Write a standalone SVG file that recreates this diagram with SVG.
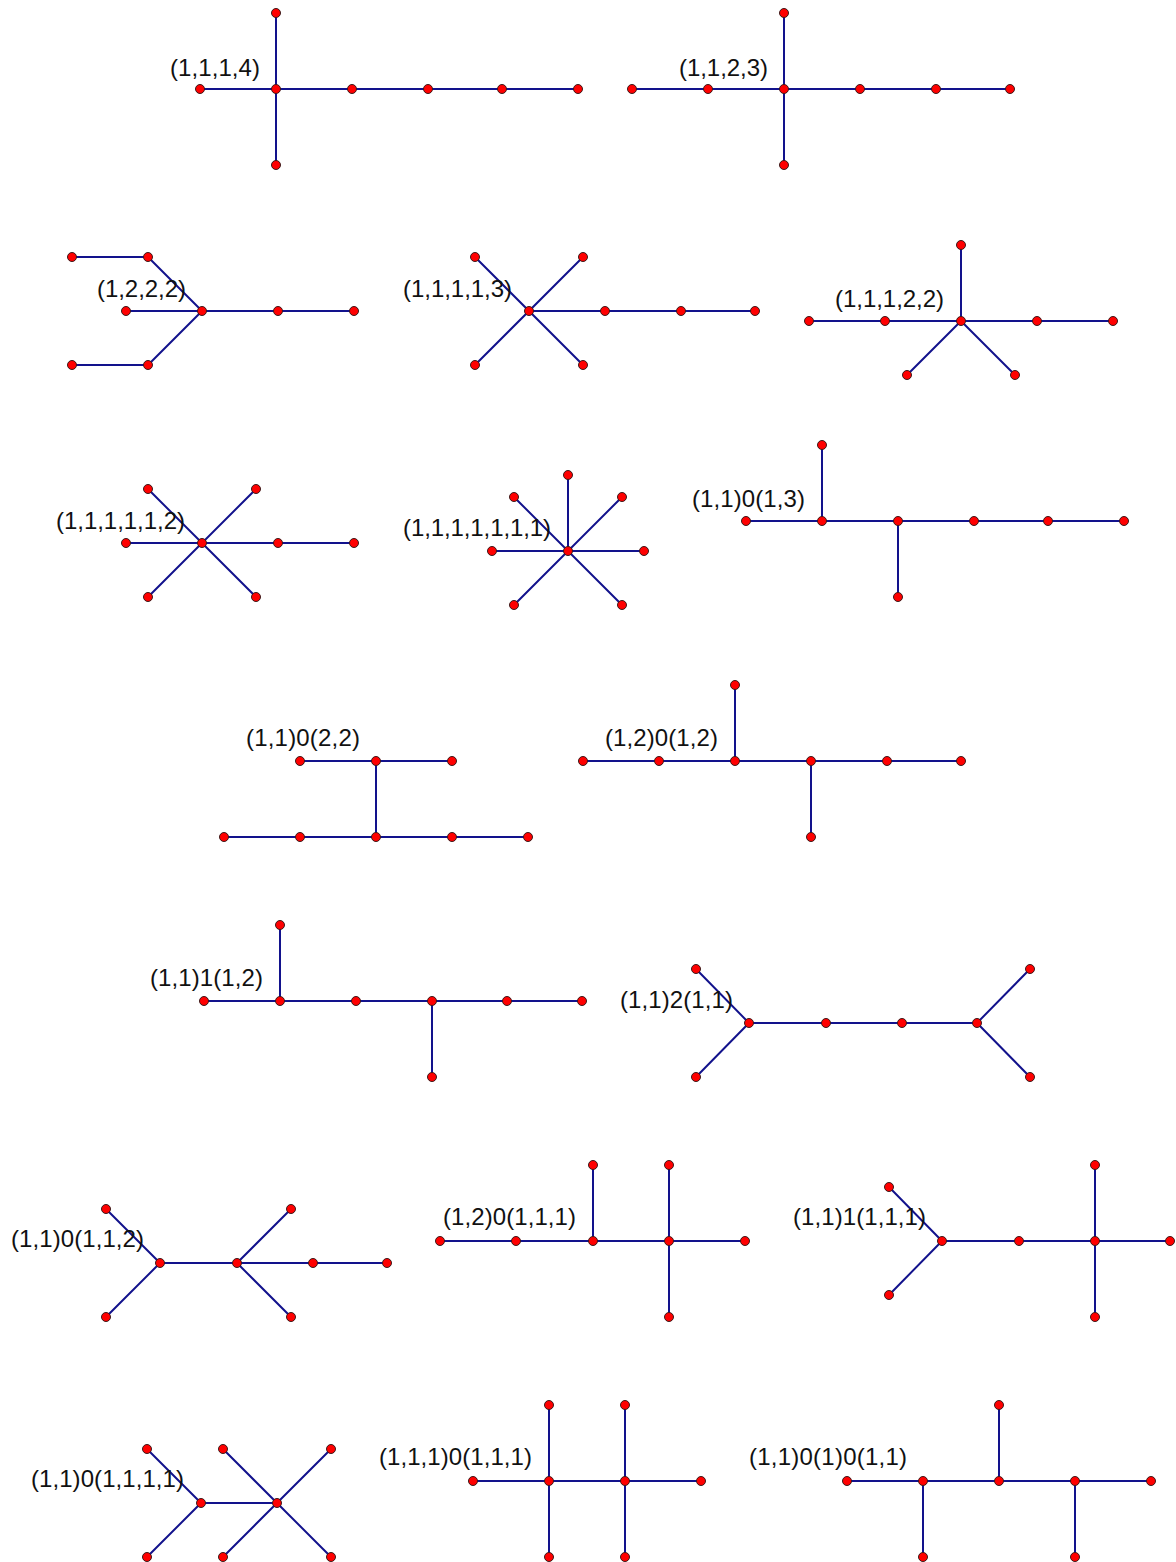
<svg xmlns="http://www.w3.org/2000/svg" width="1176" height="1562" viewBox="0 0 1176 1562">
  <style>
    .e { fill: none; stroke: #12128c; stroke-width: 2; stroke-linecap: round; stroke-linejoin: round; }
    .v { fill: #ff0000; stroke: #3a1a1a; stroke-width: 1; }
    .lbl { font-family: "Liberation Sans", Arial, sans-serif; font-size: 24px; fill: #111; }
  </style>
  <rect width="1176" height="1562" fill="#ffffff"/>

  <!-- edges of every tree -->
  <g id="connectors">
    <!-- (1,1,1,4) -->
    <path class="e" d="M200 89H578M276 13V165"/>
    <!-- (1,1,2,3) -->
    <path class="e" d="M632 89H1010M784 13V165"/>
    <!-- (1,2,2,2) -->
    <path class="e" d="M126 311H354M72 257H148L202 311L148 365H72"/>
    <!-- (1,1,1,1,3) -->
    <path class="e" d="M529 311H755M475 257L583 365M583 257L475 365"/>
    <!-- (1,1,1,2,2) -->
    <path class="e" d="M809 321H1113M961 245V321M907 375L961 321L1015 375"/>
    <!-- (1,1,1,1,1,2) -->
    <path class="e" d="M126 543H354M148 489L256 597M256 489L148 597"/>
    <!-- (1,1,1,1,1,1,1) -->
    <path class="e" d="M492 551H644M568 475V551M514 497L622 605M622 497L514 605"/>
    <!-- (1,1)0(1,3) -->
    <path class="e" d="M746 521H1124M822 445V521M898 521V597"/>
    <!-- (1,1)0(2,2) -->
    <path class="e" d="M300 761H452M224 837H528M376 761V837"/>
    <!-- (1,2)0(1,2) -->
    <path class="e" d="M583 761H961M735 685V761M811 761V837"/>
    <!-- (1,1)1(1,2) -->
    <path class="e" d="M204 1001H582M280 925V1001M432 1001V1077"/>
    <!-- (1,1)2(1,1) -->
    <path class="e" d="M749 1023H977M696 969L749 1023L696 1077M1030 969L977 1023L1030 1077"/>
    <!-- (1,1)0(1,1,2) -->
    <path class="e" d="M160 1263H387M106 1209L160 1263L106 1317M291 1209L237 1263L291 1317"/>
    <!-- (1,2)0(1,1,1) -->
    <path class="e" d="M440 1241H745M593 1165V1241M669 1165V1317"/>
    <!-- (1,1)1(1,1,1) -->
    <path class="e" d="M942 1241H1170M889 1187L942 1241L889 1295M1095 1165V1317"/>
    <!-- (1,1)0(1,1,1,1) -->
    <path class="e" d="M201 1503H277M147 1449L201 1503L147 1557M223 1449L331 1557M331 1449L223 1557"/>
    <!-- (1,1,1)0(1,1,1) -->
    <path class="e" d="M473 1481H701M549 1405V1557M625 1405V1557"/>
    <!-- (1,1)0(1)0(1,1) -->
    <path class="e" d="M847 1481H1151M999 1405V1481M923 1481V1557M1075 1481V1557"/>
  </g>

  <g id="t1">
    <text class="lbl" x="170" y="76" textLength="90">(1,1,1,4)</text>
    <circle class="v" cx="276" cy="13" r="4.5"/><circle class="v" cx="276" cy="165" r="4.5"/>
    <circle class="v" cx="200" cy="89" r="4.5"/><circle class="v" cx="276" cy="89" r="4.5"/>
    <circle class="v" cx="352" cy="89" r="4.5"/><circle class="v" cx="428" cy="89" r="4.5"/>
    <circle class="v" cx="502" cy="89" r="4.5"/><circle class="v" cx="578" cy="89" r="4.5"/>
  </g>
  <g id="t2">
    <text class="lbl" x="679" y="76" textLength="89">(1,1,2,3)</text>
    <circle class="v" cx="784" cy="13" r="4.5"/><circle class="v" cx="784" cy="165" r="4.5"/>
    <circle class="v" cx="632" cy="89" r="4.5"/><circle class="v" cx="708" cy="89" r="4.5"/>
    <circle class="v" cx="784" cy="89" r="4.5"/><circle class="v" cx="860" cy="89" r="4.5"/>
    <circle class="v" cx="936" cy="89" r="4.5"/><circle class="v" cx="1010" cy="89" r="4.5"/>
  </g>
  <g id="t3">
    <text class="lbl" x="97" y="297" textLength="89">(1,2,2,2)</text>
    <circle class="v" cx="72" cy="257" r="4.5"/><circle class="v" cx="148" cy="257" r="4.5"/>
    <circle class="v" cx="126" cy="311" r="4.5"/><circle class="v" cx="202" cy="311" r="4.5"/>
    <circle class="v" cx="278" cy="311" r="4.5"/><circle class="v" cx="354" cy="311" r="4.5"/>
    <circle class="v" cx="72" cy="365" r="4.5"/><circle class="v" cx="148" cy="365" r="4.5"/>
  </g>
  <g id="t4">
    <text class="lbl" x="403" y="297" textLength="109">(1,1,1,1,3)</text>
    <circle class="v" cx="475" cy="257" r="4.5"/><circle class="v" cx="583" cy="257" r="4.5"/>
    <circle class="v" cx="529" cy="311" r="4.5"/><circle class="v" cx="605" cy="311" r="4.5"/>
    <circle class="v" cx="681" cy="311" r="4.5"/><circle class="v" cx="755" cy="311" r="4.5"/>
    <circle class="v" cx="475" cy="365" r="4.5"/><circle class="v" cx="583" cy="365" r="4.5"/>
  </g>
  <g id="t5">
    <text class="lbl" x="835" y="307" textLength="109">(1,1,1,2,2)</text>
    <circle class="v" cx="961" cy="245" r="4.5"/>
    <circle class="v" cx="809" cy="321" r="4.5"/><circle class="v" cx="885" cy="321" r="4.5"/>
    <circle class="v" cx="961" cy="321" r="4.5"/><circle class="v" cx="1037" cy="321" r="4.5"/>
    <circle class="v" cx="1113" cy="321" r="4.5"/>
    <circle class="v" cx="907" cy="375" r="4.5"/><circle class="v" cx="1015" cy="375" r="4.5"/>
  </g>
  <g id="t6">
    <text class="lbl" x="56" y="529" textLength="129">(1,1,1,1,1,2)</text>
    <circle class="v" cx="148" cy="489" r="4.5"/><circle class="v" cx="256" cy="489" r="4.5"/>
    <circle class="v" cx="126" cy="543" r="4.5"/><circle class="v" cx="202" cy="543" r="4.5"/>
    <circle class="v" cx="278" cy="543" r="4.5"/><circle class="v" cx="354" cy="543" r="4.5"/>
    <circle class="v" cx="148" cy="597" r="4.5"/><circle class="v" cx="256" cy="597" r="4.5"/>
  </g>
  <g id="t7">
    <text class="lbl" x="403" y="536" textLength="148">(1,1,1,1,1,1,1)</text>
    <circle class="v" cx="568" cy="475" r="4.5"/>
    <circle class="v" cx="514" cy="497" r="4.5"/><circle class="v" cx="622" cy="497" r="4.5"/>
    <circle class="v" cx="492" cy="551" r="4.5"/><circle class="v" cx="568" cy="551" r="4.5"/>
    <circle class="v" cx="644" cy="551" r="4.5"/>
    <circle class="v" cx="514" cy="605" r="4.5"/><circle class="v" cx="622" cy="605" r="4.5"/>
  </g>
  <g id="t8">
    <text class="lbl" x="692" y="507" textLength="113">(1,1)0(1,3)</text>
    <circle class="v" cx="822" cy="445" r="4.5"/>
    <circle class="v" cx="746" cy="521" r="4.5"/><circle class="v" cx="822" cy="521" r="4.5"/>
    <circle class="v" cx="898" cy="521" r="4.5"/><circle class="v" cx="974" cy="521" r="4.5"/>
    <circle class="v" cx="1048" cy="521" r="4.5"/><circle class="v" cx="1124" cy="521" r="4.5"/>
    <circle class="v" cx="898" cy="597" r="4.5"/>
  </g>
  <g id="t9">
    <text class="lbl" x="246" y="746" textLength="114">(1,1)0(2,2)</text>
    <circle class="v" cx="300" cy="761" r="4.5"/><circle class="v" cx="376" cy="761" r="4.5"/>
    <circle class="v" cx="452" cy="761" r="4.5"/>
    <circle class="v" cx="224" cy="837" r="4.5"/><circle class="v" cx="300" cy="837" r="4.5"/>
    <circle class="v" cx="376" cy="837" r="4.5"/><circle class="v" cx="452" cy="837" r="4.5"/>
    <circle class="v" cx="528" cy="837" r="4.5"/>
  </g>
  <g id="t10">
    <text class="lbl" x="605" y="746" textLength="113">(1,2)0(1,2)</text>
    <circle class="v" cx="735" cy="685" r="4.5"/>
    <circle class="v" cx="583" cy="761" r="4.5"/><circle class="v" cx="659" cy="761" r="4.5"/>
    <circle class="v" cx="735" cy="761" r="4.5"/><circle class="v" cx="811" cy="761" r="4.5"/>
    <circle class="v" cx="887" cy="761" r="4.5"/><circle class="v" cx="961" cy="761" r="4.5"/>
    <circle class="v" cx="811" cy="837" r="4.5"/>
  </g>
  <g id="t11">
    <text class="lbl" x="150" y="986" textLength="113">(1,1)1(1,2)</text>
    <circle class="v" cx="280" cy="925" r="4.5"/>
    <circle class="v" cx="204" cy="1001" r="4.5"/><circle class="v" cx="280" cy="1001" r="4.5"/>
    <circle class="v" cx="356" cy="1001" r="4.5"/><circle class="v" cx="432" cy="1001" r="4.5"/>
    <circle class="v" cx="507" cy="1001" r="4.5"/><circle class="v" cx="582" cy="1001" r="4.5"/>
    <circle class="v" cx="432" cy="1077" r="4.5"/>
  </g>
  <g id="t12">
    <text class="lbl" x="620" y="1008" textLength="113">(1,1)2(1,1)</text>
    <circle class="v" cx="696" cy="969" r="4.5"/><circle class="v" cx="1030" cy="969" r="4.5"/>
    <circle class="v" cx="749" cy="1023" r="4.5"/><circle class="v" cx="826" cy="1023" r="4.5"/>
    <circle class="v" cx="902" cy="1023" r="4.5"/><circle class="v" cx="977" cy="1023" r="4.5"/>
    <circle class="v" cx="696" cy="1077" r="4.5"/><circle class="v" cx="1030" cy="1077" r="4.5"/>
  </g>
  <g id="t13">
    <text class="lbl" x="11" y="1247" textLength="133">(1,1)0(1,1,2)</text>
    <circle class="v" cx="106" cy="1209" r="4.5"/><circle class="v" cx="291" cy="1209" r="4.5"/>
    <circle class="v" cx="160" cy="1263" r="4.5"/><circle class="v" cx="237" cy="1263" r="4.5"/>
    <circle class="v" cx="313" cy="1263" r="4.5"/><circle class="v" cx="387" cy="1263" r="4.5"/>
    <circle class="v" cx="106" cy="1317" r="4.5"/><circle class="v" cx="291" cy="1317" r="4.5"/>
  </g>
  <g id="t14">
    <text class="lbl" x="443" y="1225" textLength="133">(1,2)0(1,1,1)</text>
    <circle class="v" cx="593" cy="1165" r="4.5"/><circle class="v" cx="669" cy="1165" r="4.5"/>
    <circle class="v" cx="440" cy="1241" r="4.5"/><circle class="v" cx="516" cy="1241" r="4.5"/>
    <circle class="v" cx="593" cy="1241" r="4.5"/><circle class="v" cx="669" cy="1241" r="4.5"/>
    <circle class="v" cx="745" cy="1241" r="4.5"/>
    <circle class="v" cx="669" cy="1317" r="4.5"/>
  </g>
  <g id="t15">
    <text class="lbl" x="793" y="1225" textLength="133">(1,1)1(1,1,1)</text>
    <circle class="v" cx="1095" cy="1165" r="4.5"/>
    <circle class="v" cx="889" cy="1187" r="4.5"/>
    <circle class="v" cx="942" cy="1241" r="4.5"/><circle class="v" cx="1019" cy="1241" r="4.5"/>
    <circle class="v" cx="1095" cy="1241" r="4.5"/><circle class="v" cx="1170" cy="1241" r="4.5"/>
    <circle class="v" cx="889" cy="1295" r="4.5"/>
    <circle class="v" cx="1095" cy="1317" r="4.5"/>
  </g>
  <g id="t16">
    <text class="lbl" x="31" y="1487" textLength="153">(1,1)0(1,1,1,1)</text>
    <circle class="v" cx="147" cy="1449" r="4.5"/><circle class="v" cx="223" cy="1449" r="4.5"/>
    <circle class="v" cx="331" cy="1449" r="4.5"/>
    <circle class="v" cx="201" cy="1503" r="4.5"/><circle class="v" cx="277" cy="1503" r="4.5"/>
    <circle class="v" cx="147" cy="1557" r="4.5"/><circle class="v" cx="223" cy="1557" r="4.5"/>
    <circle class="v" cx="331" cy="1557" r="4.5"/>
  </g>
  <g id="t17">
    <text class="lbl" x="379" y="1465" textLength="153">(1,1,1)0(1,1,1)</text>
    <circle class="v" cx="549" cy="1405" r="4.5"/><circle class="v" cx="625" cy="1405" r="4.5"/>
    <circle class="v" cx="473" cy="1481" r="4.5"/><circle class="v" cx="549" cy="1481" r="4.5"/>
    <circle class="v" cx="625" cy="1481" r="4.5"/><circle class="v" cx="701" cy="1481" r="4.5"/>
    <circle class="v" cx="549" cy="1557" r="4.5"/><circle class="v" cx="625" cy="1557" r="4.5"/>
  </g>
  <g id="t18">
    <text class="lbl" x="749" y="1465" textLength="158">(1,1)0(1)0(1,1)</text>
    <circle class="v" cx="999" cy="1405" r="4.5"/>
    <circle class="v" cx="847" cy="1481" r="4.5"/><circle class="v" cx="923" cy="1481" r="4.5"/>
    <circle class="v" cx="999" cy="1481" r="4.5"/><circle class="v" cx="1075" cy="1481" r="4.5"/>
    <circle class="v" cx="1151" cy="1481" r="4.5"/>
    <circle class="v" cx="923" cy="1557" r="4.5"/><circle class="v" cx="1075" cy="1557" r="4.5"/>
  </g>
</svg>
